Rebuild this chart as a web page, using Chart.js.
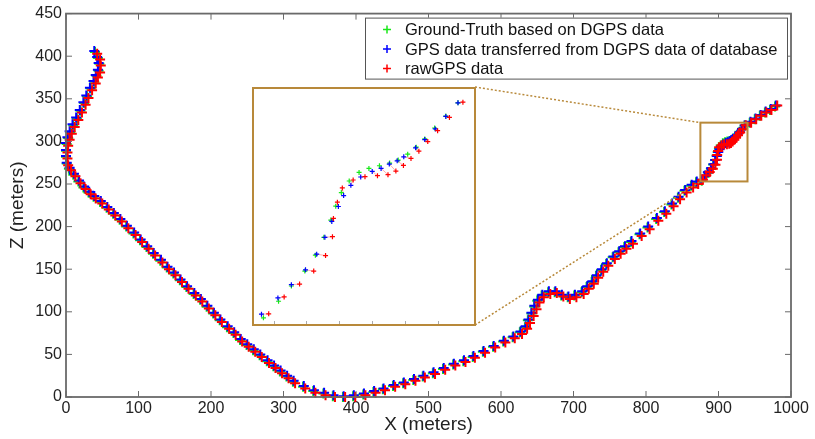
<!DOCTYPE html>
<html>
<head>
<meta charset="utf-8">
<script src="https://cdn.jsdelivr.net/npm/chart.js@4.4.1/dist/chart.umd.min.js"></script>
<style>
  html, body { margin: 0; padding: 0; background: #fff; }
  #wrap { position: relative; width: 815px; height: 439px; }
  #insetBox { position: absolute; left: 252px; top: 87px; width: 224px; height: 239px; }
</style>
</head>
<body>
<div id="wrap">
  <canvas id="myChart" width="815" height="439"></canvas>
  <div id="insetBox"><canvas id="insetChart" width="224" height="239"></canvas></div>
</div>
<script>
// ground truth (DGPS)
var gtX = [40,44,46,45,42,39,34,29,25,20, 15,10,6,3,1,0,0,1,4,10, 17,24,31,38,47,56,65,74,83,93,
  102,111,120,130,139,148,157,166,176,185, 194,203,212,222,231,240,249,258,267,277,
  286,295,304,313,327,341,355,368,382,396, 410,424,437,451,465,479,492,506,520,534,
  548,561,575,589,603,616,626,633,637,642, 646,650,656,665,674,683,692,701,711,718,
  725,731,738,745,754,762,770,779,791,802, 814,825,835,844,853,862,869,
  876.9,881.5,885.4,889.5,892.7,895.3,897.4,898.9,900.6,903,906,909,912.2,915.3,917.9,920.8,923.4,926,929,932.4,936.1,
  943,950,957,964,971,978];
var gtY = [405,398,391,383,377,370,362,353,345,336, 327,319,311,304,297,289,282,274,268,261,
  253,246,240,235,229,222,215,208,200,192, 184,176,168,160,152,145,137,129,121,114,
  106,98,90,82,75,67,61,55,49,42, 36,30,24,18,12,7,4,1,0,1,
  3,6,9,13,16,20,24,28,33,38, 42,47,53,59,65,70,76,82,90,98,
  106,113,119,123,123,119,117,119,123,129, 135,142,149,156,164,170,176,182,191,199,
  209,217,226,234,242,248,252,
  253.9,258.9,263.5,268,272.8,278.2,283.4,287.6,291.7,295.2,297.8,299,299.8,300.6,301.5,303.3,305.4,307.9,311.2,314.8,318.8,
  322,326,330,334,337,341];

// GPS transferred from DGPS of database
var gpsX = [39,43,45,44,41,38,33,28,24,19, 14,9,5,2,0,0,0,1,5,11, 18,25,32,39,48,57,66,75,84,94,
  103,112,121,131,140,149,158,167,177,186, 195,204,213,223,232,241,250,259,268,278,
  287,296,305,314,328,342,356,369,383,397, 411,425,438,452,466,480,493,507,521,535,
  549,562,576,590,604,617,627,634,638,642, 646,651,657,666,675,684,693,702,712,719,
  726,732,739,746,755,763,771,780,792,803, 815,826,836,845,854,863,870,
  876.3,881.3,885.4,889.7,893.1,895.6,897.7,899.7,901.3,903.5,906.5,910,912.7,915.2,917.6,919.6,923.2,926,929.2,932.4,936.1,
  944,951,958,965,972,979];
var gpsY = [406,399,392,384,378,371,363,354,346,337, 328,320,312,305,298,290,283,275,269,262,
  254,247,241,236,230,223,216,209,201,193, 185,177,169,161,153,146,138,130,122,115,
  107,99,91,83,76,68,62,56,50,43, 37,31,25,19,13,8,5,2,1,2,
  4,7,10,14,17,21,25,29,34,39, 43,48,54,60,66,71,77,83,91,99,
  107,114,120,124,124,120,118,120,124,130, 136,143,150,157,165,171,177,183,192,200,
  210,218,227,235,243,249,253,
  255,259.9,263.9,268.4,273.1,278.2,283,287.5,290.8,293.9,296.4,298.1,299,300.3,301.3,302.5,305.2,307.7,310.9,314.7,318.8,
  323,327,331,335,338,342];

// raw GPS
var rawX = [43,47,48,47,44,41,36,31,27,22, 17,12,8,5,3,2,2,3,7,13, 20,27,34,41,50,59,68,77,86,96,
  105,114,123,133,142,151,160,169,179,188, 197,206,215,225,234,243,252,261,270,280,
  289,298,307,316,330,344,358,371,385,399, 413,427,440,454,468,482,495,509,523,537,
  551,564,578,592,606,619,629,636,640,645, 649,653,659,668,677,686,695,704,714,721,
  728,734,741,748,757,765,773,782,794,805, 817,828,838,847,856,865,872,
  878.5,883.2,887.9,892.2,895.8,897.9,898.2,899.4,900.9,904.2,907.8,911.6,914.8,917.2,919.5,921.8,924.2,926.9,929.9,933.5,937.6,
  945,952,959,966,973,981];
var rawY = [403,396,389,381,375,368,360,351,343,334, 325,317,309,302,295,287,280,272,266,259,
  251,244,238,233,227,220,213,206,198,190, 182,174,166,158,150,143,135,127,119,112,
  104,96,88,80,73,65,59,53,47,40, 34,28,22,16,10,5,2,0,0,0,
  2,5,8,12,15,19,23,27,32,37, 41,46,52,58,64,69,74,80,87,95,
  103,111,117,121,122,118,115,117,121,127, 133,140,147,154,162,168,174,180,189,197,
  207,215,224,232,240,246,250,
  255.1,260.2,264.1,268,272.7,278.4,283.9,288.8,293.1,295.5,296.5,296.8,297.1,298.2,299.9,302,304.2,307.1,310.4,314.4,319,
  322,326,330,334,337,342];

var labels = ["Ground-Truth based on DGPS data", "GPS data transferred from DGPS data of database", "rawGPS data"];
var colors = ["#18e818", "#0000ff", "#ff0000"];

// zoomed region shown in the inset
var zoomX = [875, 940];
var zoomY = [253, 322];
var insetTicks = [880, 890, 900, 910, 920, 930];

var FONT = "'Liberation Sans', Arial, sans-serif";
var GOLD = "#b8893a";
var INSET = { left: 252, top: 87, width: 224, height: 239 };

function pts(xs, ys) {
  return xs.map(function (x, i) { return { x: x, y: ys[i] }; });
}

function makeSets(radius, width) {
  var series = [pts(gtX, gtY), pts(gpsX, gpsY), pts(rawX, rawY)];
  return series.map(function (d, i) {
    return {
      label: labels[i],
      data: d,
      showLine: false,
      pointStyle: "cross",
      pointRadius: radius,
      pointBorderWidth: width,
      borderColor: colors[i],
      backgroundColor: colors[i],
      order: 3 - i,
      clip: false
    };
  });
}

var framePlugin = {
  id: "frame",
  afterDraw: function (chart) {
    var c = chart.ctx, a = chart.chartArea;
    var xs = chart.scales.x, ys = chart.scales.y;
    c.save();
    c.strokeStyle = "#6a6a6a";
    c.lineWidth = 1.8;
    c.strokeRect(a.left, a.top, a.right - a.left, a.bottom - a.top);
    c.lineWidth = 1;
    c.beginPath();
    xs.ticks.forEach(function (t) {
      var p = xs.getPixelForValue(t.value);
      c.moveTo(p, a.bottom); c.lineTo(p, a.bottom - 6);
      c.moveTo(p, a.top); c.lineTo(p, a.top + 6);
    });
    ys.ticks.forEach(function (t) {
      var p = ys.getPixelForValue(t.value);
      c.moveTo(a.left, p); c.lineTo(a.left + 6, p);
      c.moveTo(a.right, p); c.lineTo(a.right - 6, p);
    });
    c.stroke();

    // zoom box and connectors
    var bx0 = xs.getPixelForValue(zoomX[0]), bx1 = xs.getPixelForValue(zoomX[1]);
    var by0 = ys.getPixelForValue(zoomY[0]), by1 = ys.getPixelForValue(zoomY[1]);
    c.strokeStyle = GOLD;
    c.lineWidth = 2;
    c.strokeRect(bx0, by1, bx1 - bx0, by0 - by1);
    c.lineWidth = 1.5;
    c.setLineDash([2, 2]);
    c.beginPath();
    c.moveTo(INSET.left + INSET.width - 1, INSET.top);
    c.lineTo(bx0, by1);
    c.moveTo(INSET.left + INSET.width - 1, INSET.top + INSET.height - 1);
    c.lineTo(bx0, by0);
    c.stroke();
    c.setLineDash([]);

    // legend
    var lx = a.right - 426, ly = a.top + 4;
    c.fillStyle = "#fff";
    c.fillRect(lx, ly, 422, 61);
    c.strokeStyle = "#555";
    c.lineWidth = 1;
    c.strokeRect(lx + 0.5, ly + 0.5, 422, 61);
    c.font = "16.5px " + FONT;
    c.textBaseline = "middle";
    chart.data.datasets.forEach(function (ds, i) {
      var y = ly + 12 + i * 19.5;
      var mx = lx + 22;
      c.strokeStyle = ds.borderColor;
      c.lineWidth = 1.5;
      c.beginPath();
      c.moveTo(mx - 4, y); c.lineTo(mx + 4, y);
      c.moveTo(mx, y - 4); c.lineTo(mx, y + 4);
      c.stroke();
      c.fillStyle = "#111";
      c.fillText(ds.label, lx + 40, y + 1);
    });
    c.restore();
  }
};

var ctx = document.getElementById("myChart").getContext("2d");
var myChart = new Chart(ctx, {
  type: "scatter",
  data: { datasets: makeSets(5, 2) },
  options: {
    responsive: false,
    animation: false,
    layout: { padding: { top: 13, right: 24, left: 0, bottom: 0 } },
    plugins: { legend: { display: false }, tooltip: { enabled: false } },
    scales: {
      x: {
        type: "linear", min: 0, max: 1000,
        ticks: { stepSize: 100, padding: 2, color: "#222", maxRotation: 0, font: { size: 16, family: FONT },
          callback: function (v) { return String(v); } },
        grid: { display: false, drawTicks: false },
        border: { display: false },
        title: { display: true, text: "X (meters)", color: "#222", font: { size: 19, family: FONT }, padding: { top: 0, bottom: 3 } },
        afterFit: function (s) { s.height = 42; }
      },
      y: {
        type: "linear", min: 0, max: 450,
        ticks: { stepSize: 50, padding: 4, color: "#222", font: { size: 16, family: FONT },
          callback: function (v) { return String(v); } },
        grid: { display: false, drawTicks: false },
        border: { display: false },
        title: { display: true, text: "Z (meters)", color: "#222", font: { size: 19, family: FONT }, padding: { top: 6, bottom: 0 } },
        afterFit: function (s) { s.width = 66; }
      }
    }
  },
  plugins: [framePlugin]
});

// inset with the zoomed region
var insetPlugin = {
  id: "insetFrame",
  beforeDraw: function (chart) {
    var c = chart.ctx;
    c.save();
    c.fillStyle = "#fff";
    c.fillRect(0, 0, chart.width, chart.height);
    c.restore();
  },
  beforeDatasetsDraw: function (chart) {
    var c = chart.ctx, xs = chart.scales.x, ys = chart.scales.y;
    c.save();
    c.strokeStyle = "rgba(255,120,120,0.6)";
    c.lineWidth = 1;
    c.beginPath();
    gpsX.forEach(function (x, i) {
      if (x < zoomX[0] || x > zoomX[1] || gpsY[i] < zoomY[0] || gpsY[i] > zoomY[1]) return;
      c.moveTo(xs.getPixelForValue(x), ys.getPixelForValue(gpsY[i]));
      c.lineTo(xs.getPixelForValue(rawX[i]), ys.getPixelForValue(rawY[i]));
    });
    c.stroke();
    c.restore();
  },
  afterDraw: function (chart) {
    var c = chart.ctx, xs = chart.scales.x;
    c.save();
    c.strokeStyle = "#aaa";
    c.lineWidth = 1;
    c.beginPath();
    insetTicks.forEach(function (v) {
      var p = Math.round(xs.getPixelForValue(v)) + 0.5;
      c.moveTo(p, chart.height - 2); c.lineTo(p, chart.height - 5);
    });
    c.stroke();
    c.strokeStyle = GOLD;
    c.lineWidth = 2;
    c.strokeRect(1, 1, chart.width - 2, chart.height - 2);
    c.restore();
  }
};

var insetCtx = document.getElementById("insetChart").getContext("2d");
var insetChart = new Chart(insetCtx, {
  type: "scatter",
  data: { datasets: makeSets(2.5, 1.2) },
  options: {
    responsive: false,
    animation: false,
    layout: { padding: 0 },
    plugins: { legend: { display: false }, tooltip: { enabled: false } },
    scales: {
      x: { type: "linear", min: zoomX[0], max: zoomX[1], display: false },
      y: { type: "linear", min: zoomY[0], max: zoomY[1], display: false }
    }
  },
  plugins: [insetPlugin]
});
</script>
</body>
</html>
